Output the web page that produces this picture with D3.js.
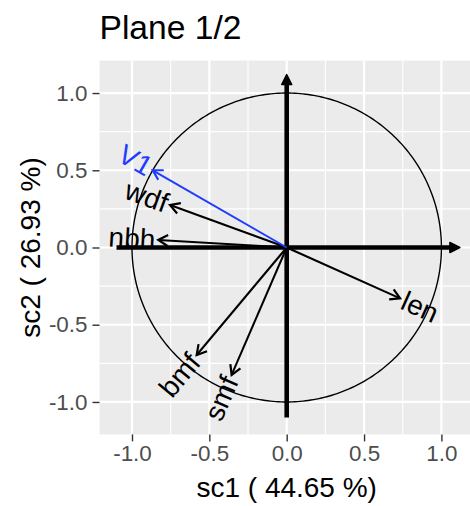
<!DOCTYPE html>
<html>
<head>
<meta charset="utf-8">
<script src="https://cdn.jsdelivr.net/npm/d3@7"></script>
<style>
  html, body { margin: 0; padding: 0; background: #fff; }
  svg { display: block; font-family: "Liberation Sans", Arial, sans-serif; }
</style>
</head>
<body>
<div id="chart"></div>
<script>
// ---- data ----
const titleText = "Plane 1/2";
const xTitle = "sc1 ( 44.65 %)";
const yTitle = "sc2 ( 26.93 %)";
const variables = ["wdf", "nbh", "bmf", "smf", "len"];
const sc1 = [-0.754, -0.830, -0.582, -0.356, 0.733];
const sc2 = [0.275, 0.049, -0.696, -0.825, -0.329];
const suppVariables = ["V1"];
const suppSc1 = [-0.866];
const suppSc2 = [0.500];
const majorTicks = [-1.0, -0.5, 0.0, 0.5, 1.0];
const majorTickLabels = ["-1.0", "-0.5", "0.0", "0.5", "1.0"];
const minorTicks = [-0.75, -0.25, 0.25, 0.75];
const axisLimit = 1.1;
const domainLimit = 1.21;

// ---- layout ----
const W = 470, H = 506;
const panel = { left: 99.5, right: 473.9, top: 60.6, bottom: 434.4 };

const svg = d3.select("#chart").append("svg").attr("width", W).attr("height", H);

const x = d3.scaleLinear().domain([-domainLimit, domainLimit]).range([panel.left, panel.right]);
const y = d3.scaleLinear().domain([-domainLimit, domainLimit]).range([panel.bottom, panel.top]);

// panel background
svg.append("rect")
  .attr("x", panel.left).attr("y", panel.top)
  .attr("width", panel.right - panel.left).attr("height", panel.bottom - panel.top)
  .attr("fill", "#EBEBEB");

const grid = svg.append("g");
// minor grid
grid.selectAll("line.vminor").data(minorTicks).join("line")
  .attr("x1", d => x(d)).attr("x2", d => x(d)).attr("y1", panel.top).attr("y2", panel.bottom)
  .attr("stroke", "#fff").attr("stroke-width", 1.1);
grid.selectAll("line.hminor").data(minorTicks).join("line")
  .attr("y1", d => y(d)).attr("y2", d => y(d)).attr("x1", panel.left).attr("x2", panel.right)
  .attr("stroke", "#fff").attr("stroke-width", 1.1);
// major grid
grid.selectAll("line.vmajor").data(majorTicks).join("line")
  .attr("x1", d => x(d)).attr("x2", d => x(d)).attr("y1", panel.top).attr("y2", panel.bottom)
  .attr("stroke", "#fff").attr("stroke-width", 2.2);
grid.selectAll("line.hmajor").data(majorTicks).join("line")
  .attr("y1", d => y(d)).attr("y2", d => y(d)).attr("x1", panel.left).attr("x2", panel.right)
  .attr("stroke", "#fff").attr("stroke-width", 2.2);

// axes (ticks + labels)
const xAxis = d3.axisBottom(x).tickValues(majorTicks)
  .tickFormat((d, i) => majorTickLabels[i]).tickSize(7).tickPadding(4);
const gx = svg.append("g").attr("transform", `translate(0,${panel.bottom})`).call(xAxis);
gx.select(".domain").remove();
gx.selectAll(".tick line").attr("stroke", "#333333").attr("stroke-width", 1.4);
gx.selectAll(".tick text").attr("fill", "#4D4D4D").attr("font-size", 22.4)
  .attr("font-family", "Liberation Sans, Arial, sans-serif");

const yAxis = d3.axisLeft(y).tickValues(majorTicks)
  .tickFormat((d, i) => majorTickLabels[i]).tickSize(7).tickPadding(5);
const gy = svg.append("g").attr("transform", `translate(${panel.left},0)`).call(yAxis);
gy.select(".domain").remove();
gy.selectAll(".tick line").attr("stroke", "#333333").attr("stroke-width", 1.4);
gy.selectAll(".tick text").attr("fill", "#4D4D4D").attr("font-size", 22.4)
  .attr("font-family", "Liberation Sans, Arial, sans-serif");

// clip for plot contents
svg.append("clipPath").attr("id", "pclip").append("rect")
  .attr("x", panel.left).attr("y", panel.top)
  .attr("width", panel.right - panel.left).attr("height", panel.bottom - panel.top);
const plot = svg.append("g").attr("clip-path", "url(#pclip)");

// unit circle
const angles = d3.range(0, 361, 1).map(a => a * Math.PI / 180);
plot.append("path")
  .attr("d", d3.line().x(a => x(Math.cos(a))).y(a => y(Math.sin(a)))(angles))
  .attr("fill", "none").attr("stroke", "#000").attr("stroke-width", 1.4);

// main axis arrows (thick, closed heads)
function closedArrow(g, x1, y1, x2, y2, width, headLen, headHalf, color) {
  const dx = x2 - x1, dy = y2 - y1, L = Math.hypot(dx, dy);
  const ux = dx / L, uy = dy / L, px = -uy, py = ux;
  const bx = x2 - ux * headLen, by = y2 - uy * headLen;
  g.append("line").attr("x1", x1).attr("y1", y1).attr("x2", bx + ux * 1).attr("y2", by + uy * 1)
    .attr("stroke", color).attr("stroke-width", width);
  g.append("path")
    .attr("d", `M${x2},${y2}L${bx + px * headHalf},${by + py * headHalf}L${bx - px * headHalf},${by - py * headHalf}Z`)
    .attr("fill", color).attr("stroke", color).attr("stroke-width", 1.5).attr("stroke-linejoin", "round");
}
closedArrow(plot, x(-axisLimit), y(0), x(axisLimit) + 3, y(0), 4.6, 10, 5, "#000");
closedArrow(plot, x(0), y(-axisLimit), x(0), y(axisLimit) - 3, 4.6, 10, 5, "#000");

// variable arrows (open heads)
function openArrow(g, x1, y1, x2, y2, color) {
  const dx = x2 - x1, dy = y2 - y1, L = Math.hypot(dx, dy);
  const ux = dx / L, uy = dy / L;
  const len = 11, ang = Math.PI / 6;
  const c = Math.cos(ang), s = Math.sin(ang);
  const ax = x2 - len * (ux * c - uy * s), ay = y2 - len * (uy * c + ux * s);
  const bx = x2 - len * (ux * c + uy * s), by = y2 - len * (uy * c - ux * s);
  g.append("line").attr("x1", x1).attr("y1", y1).attr("x2", x2).attr("y2", y2)
    .attr("stroke", color).attr("stroke-width", 2).attr("stroke-linecap", "butt");
  g.append("path").attr("d", `M${ax},${ay}L${x2},${y2}L${bx},${by}`)
    .attr("fill", "none").attr("stroke", color).attr("stroke-width", 2.2)
    .attr("stroke-linejoin", "miter").attr("stroke-linecap", "butt");
}

function label(g, name, vx, vy, color) {
  const px = x(vx), py = y(vy);
  const dx = px - x(0), dy = py - y(0), L = Math.hypot(dx, dy);
  const ux = dx / L, uy = dy / L;
  const gap = 3;
  const lx = px + ux * gap, ly = py + uy * gap;
  const rot = Math.atan(dy / dx) * 180 / Math.PI;
  g.append("text").attr("x", lx).attr("y", ly)
    .attr("transform", `rotate(${rot},${lx},${ly})`)
    .attr("text-anchor", vx < 0 ? "end" : "start")
    .attr("dominant-baseline", "central")
    .attr("font-size", 28).attr("fill", color)
    .text(name);
}

const vars = variables.map((v, i) => ({ name: v, sc1: sc1[i], sc2: sc2[i] }));
const supp = suppVariables.map((v, i) => ({ name: v, sc1: suppSc1[i], sc2: suppSc2[i] }));

vars.forEach(d => openArrow(plot, x(0), y(0), x(d.sc1), y(d.sc2), "#000"));
supp.forEach(d => openArrow(plot, x(0), y(0), x(d.sc1), y(d.sc2), "#1F3BFF"));
vars.forEach(d => label(plot, d.name, d.sc1, d.sc2, "#000"));
supp.forEach(d => label(plot, d.name, d.sc1, d.sc2, "#1F3BFF"));

// titles
svg.append("text").attr("x", panel.left).attr("y", 39)
  .attr("font-size", 33.6).attr("fill", "#000").text(titleText);
svg.append("text").attr("x", (panel.left + panel.right) / 2).attr("y", 497)
  .attr("text-anchor", "middle").attr("font-size", 28).attr("fill", "#000").text(xTitle);
svg.append("text")
  .attr("transform", `translate(40,${(panel.top + panel.bottom) / 2}) rotate(-90)`)
  .attr("text-anchor", "middle").attr("font-size", 28).attr("fill", "#000").text(yTitle);
</script>
</body>
</html>
